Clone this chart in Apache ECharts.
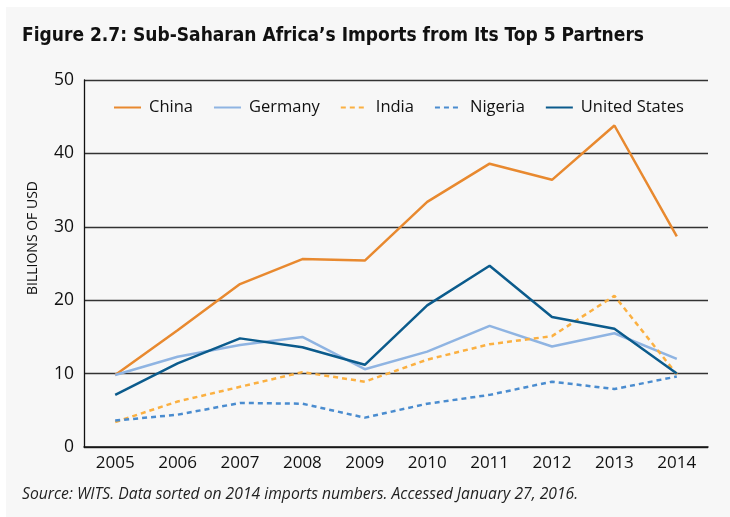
<!DOCTYPE html>
<html>
<head>
<meta charset="utf-8">
<script src="https://cdn.jsdelivr.net/npm/echarts@6/dist/echarts.min.js"></script>
<style>
  html, body { margin: 0; padding: 0; background: #fff; }
  #chart { position: absolute; left: 6px; top: 7px; width: 724px; height: 510px; background: #f7f7f7; }
</style>
</head>
<body>
<div id="chart"></div>
<script>
var years = ['2005', '2006', '2007', '2008', '2009', '2010', '2011', '2012', '2013', '2014'];
var china = [9.8, 15.9, 22.2, 25.6, 25.4, 33.4, 38.6, 36.4, 43.8, 28.7];
var germany = [9.8, 12.3, 13.9, 15.0, 10.6, 13.0, 16.5, 13.7, 15.5, 12.0];
var india = [3.4, 6.2, 8.2, 10.2, 8.9, 11.9, 14.0, 15.1, 20.6, 9.9];
var nigeria = [3.6, 4.4, 6.0, 5.9, 4.0, 5.9, 7.1, 8.9, 7.9, 9.6];
var unitedStates = [7.1, 11.4, 14.8, 13.6, 11.2, 19.3, 24.7, 17.7, 16.1, 10.0];

var font = 'Open Sans';

function line(name, data, color, dashed) {
  return {
    name: name,
    type: 'line',
    data: data,
    symbol: 'none',
    lineStyle: { color: color, width: 2.5, type: dashed ? [5, 4] : 'solid' },
    itemStyle: { color: color }
  };
}

var chart = echarts.init(document.getElementById('chart'));
chart.setOption({
  backgroundColor: '#f7f7f7',
  animation: false,
  title: [{
    text: 'Figure 2.7: Sub-Saharan Africa\u2019s Imports from Its Top 5 Partners',
    left: 11, top: 15,
    textStyle: { fontFamily: 'DejaVu Sans Condensed', fontWeight: 'bold', fontSize: 19, color: '#111' }
  }, {
    text: 'Source: WITS. Data sorted on 2014 imports numbers. Accessed January 27, 2016.',
    left: 11, top: 475,
    textStyle: { fontFamily: font, fontStyle: 'italic', fontWeight: 'normal', fontSize: 15.7, color: '#222' }
  }],
  graphic: [{
    type: 'text',
    x: 27, y: 231,
    rotation: Math.PI / 2,
    style: {
      text: 'BILLIONS OF USD',
      font: '14px "Open Sans"',
      fill: '#111',
      align: 'center',
      verticalAlign: 'middle'
    }
  }],
  legend: {
    left: 102, top: 87,
    itemWidth: 27, itemHeight: 12, itemGap: 20,
    itemStyle: { opacity: 0 },
    textStyle: { fontFamily: font, fontSize: 16.5, color: '#111', padding: [0, 0, 0, 3] },
    data: ['China', 'Germany', 'India', 'Nigeria', 'United States']
  },
  grid: { left: 78, right: 22, top: 73, bottom: 70 },
  xAxis: {
    type: 'category',
    data: years,
    boundaryGap: true,
    axisLine: { lineStyle: { color: '#111', width: 1.5 } },
    axisTick: { inside: true, length: 8, lineStyle: { color: '#111', width: 1.3 } },
    axisLabel: { fontFamily: font, fontSize: 17, color: '#111', margin: 8 }
  },
  yAxis: {
    type: 'value',
    min: 0, max: 50, interval: 10,
    axisLine: { show: true, lineStyle: { color: '#111', width: 1.3 } },
    axisTick: { show: false },
    axisLabel: { fontFamily: font, fontSize: 17.5, color: '#111', margin: 10 },
    splitLine: { lineStyle: { color: '#333', width: 1.3 } }
  },
  series: [
    line('China', china, '#e8892f', false),
    line('Germany', germany, '#8fb4e2', false),
    line('India', india, '#fbb041', true),
    line('Nigeria', nigeria, '#4a8ccf', true),
    line('United States', unitedStates, '#0b5b8c', false)
  ]
});
</script>
</body>
</html>
